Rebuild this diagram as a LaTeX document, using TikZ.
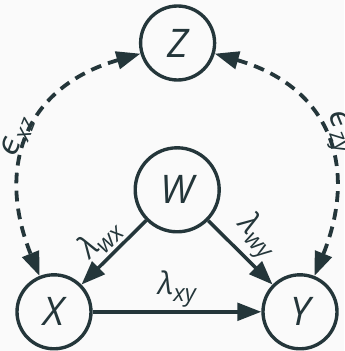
\documentclass[tikz,border=0pt]{standalone}
\usepackage{fontspec}
\setmainfont{Open Sans}
\newfontfamily\epsfont{DejaVu Sans}
\usetikzlibrary{arrows.meta}
\definecolor{dagink}{RGB}{36,54,58}
\definecolor{dagbg}{RGB}{250,250,250}
\newcommand{\sub}[1]{\raisebox{-0.22em}{\fontsize{17}{19}\selectfont #1}}

\begin{document}
\begin{tikzpicture}[
      var/.style={circle, draw=dagink, line width=2.4pt, minimum size=1.85cm, inner sep=0pt, text=dagink, font=\fontsize{28}{32}\selectfont\itshape},
      effect/.style={-{Triangle[length=0.6cm, width=0.44cm]}, draw=dagink, line width=2.5pt},
      confound/.style={{Triangle[length=0.6cm, width=0.44cm]}-{Triangle[length=0.6cm, width=0.44cm]}, draw=dagink, line width=2.7pt, dash pattern=on 0.27cm off 0.18cm},
      coef/.style={text=dagink, inner sep=2pt, font=\fontsize{22}{25}\selectfont\itshape}
    ]
      \fill[dagbg] (0,0) rectangle (8.6,8.775);
      \useasboundingbox (0,0) rectangle (8.6,8.775);

      % Variables
      \node[var] (Z) at (4.44, 7.7) {Z};
      \node[var, minimum size=2.1cm] (W) at (4.43, 4.03) {W};
      \node[var] (X) at (1.35, 0.98) {X};
      \node[var] (Y) at (7.5, 0.98) {Y};

      % Direct effects
      \draw[effect] (W) -- node[coef, midway, sloped, above] {λ\sub{wx}} (X);
      \draw[effect] (W) -- node[coef, midway, sloped, above] {λ\sub{wy}} (Y);
      \draw[effect] (X) -- node[coef, midway, above] {λ\sub{xy}} (Y);

      % Correlated errors
      \draw[confound] (Z) to[out=196, in=112, looseness=1.25]
        node[coef, pos=0.52, sloped, above, inner sep=0pt, yshift=-2pt] {{\epsfont ϵ}\sub{xz}} (X);
      \draw[confound] (Z) to[out=-16, in=68, looseness=1.25]
        node[coef, pos=0.51, sloped, above, inner sep=0pt, yshift=-2pt] {{\epsfont ϵ}\sub{zy}} (Y);
    \end{tikzpicture}
\end{document}
